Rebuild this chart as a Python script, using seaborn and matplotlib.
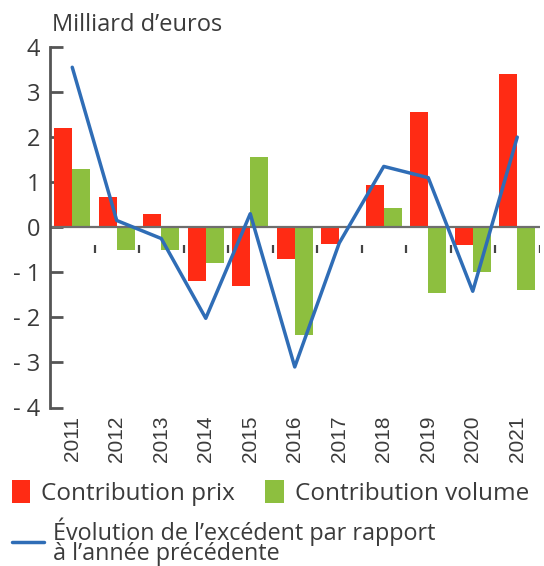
import numpy as np
import pandas as pd
import seaborn as sns
import matplotlib.pyplot as plt

# values (billions of euros)
years = ["2011", "2012", "2013", "2014", "2015", "2016", "2017", "2018", "2019", "2020", "2021"]
contrib_prix = [2.2, 0.67, 0.3, -1.2, -1.3, -0.7, -0.38, 0.93, 2.55, -0.4, 3.4]
contrib_volume = [1.3, -0.5, -0.5, -0.8, 1.55, -2.4, 0.0, 0.42, -1.45, -1.0, -1.4]
evolution = [3.55, 0.15, -0.25, -2.02, 0.3, -3.1, -0.35, 1.35, 1.1, -1.42, 2.0]

lbl_prix = "Contribution prix"
lbl_vol = "Contribution volume"
lbl_evol = "Évolution de l\u2019excédent par rapport\nà l\u2019année précédente"

RED = "#ff2b14"
GREEN = "#8dbf3f"
BLUE = "#2f6db6"
TXT = "#3b3b3b"
GREY = "#555555"

sns.set_style("white")
plt.rcParams["font.family"] = ["Open Sans", "DejaVu Sans"]
plt.rcParams["font.weight"] = "medium"
plt.rcParams["text.color"] = TXT

df = pd.DataFrame({
    "year": years * 2,
    "value": contrib_prix + contrib_volume,
    "serie": [lbl_prix] * len(years) + [lbl_vol] * len(years),
})

fig = plt.figure(figsize=(5.44, 5.66), dpi=100)
ax = fig.add_axes([50 / 544, 1 - 407.5 / 566, 489.5 / 544, 360.5 / 566])

sns.barplot(data=df, x="year", y="value", hue="serie", order=years,
            hue_order=[lbl_prix, lbl_vol], palette=[RED, GREEN],
            width=0.8, gap=0, saturation=1, linewidth=0, ax=ax)
sns.lineplot(x=np.arange(len(years)), y=evolution, color=BLUE, lw=2.5,
             sort=False, label=lbl_evol, ax=ax)

handles, labels = ax.get_legend_handles_labels()
ax.get_legend().remove()

ax.set_xlim(-0.5, len(years) - 0.5)
ax.set_ylim(-4, 4)
ax.set_yticks(range(-4, 5))
ax.set_yticklabels([str(v) if v >= 0 else "- %d" % -v for v in range(-4, 5)])
ax.set_xlabel("")
ax.set_ylabel("")

# zero line + small separators under it
ax.axhline(0, color="#6e6e6e", lw=1.6, zorder=1)
ax.vlines(np.arange(len(years)) + 0.5, -0.4, -0.58, color="#444444", lw=1.6)

for s in ["top", "right", "bottom"]:
    ax.spines[s].set_visible(False)
ax.spines["left"].set_color(GREY)
ax.spines["left"].set_linewidth(2)

ax.tick_params(axis="y", direction="in", length=9, width=2, color=GREY,
               labelsize=17, labelcolor=TXT, pad=7, left=True)
ax.tick_params(axis="x", length=0, pad=6)
for t in ax.get_xticklabels():
    t.set_rotation(90)
    t.set_fontfamily("Liberation Sans")
    t.set_fontsize(15)
    t.set_color(TXT)
    t.set_va("top")

fig.text(52 / 544, 1 - 31 / 566, "Milliard d\u2019euros", fontsize=17,
         color=TXT, va="baseline", ha="left")

leg1 = fig.legend(handles[:2], labels[:2], ncol=2, loc="upper left",
                  bbox_to_anchor=(12 / 544, 1 - 480 / 566), frameon=False,
                  fontsize=17.5, handlelength=0.75, handleheight=1.1,
                  handletextpad=0.45, columnspacing=1.25, borderpad=0,
                  borderaxespad=0)
leg2 = fig.legend(handles[2:], labels[2:], loc="upper left",
                  bbox_to_anchor=(12 / 544, 1 - 517 / 566), frameon=False,
                  fontsize=16.8, handlelength=1.35, handletextpad=0.4,
                  borderpad=0, borderaxespad=0)
for t in leg2.get_texts():
    t.set_linespacing(0.8)

fig.savefig("out.png", dpi=100)
